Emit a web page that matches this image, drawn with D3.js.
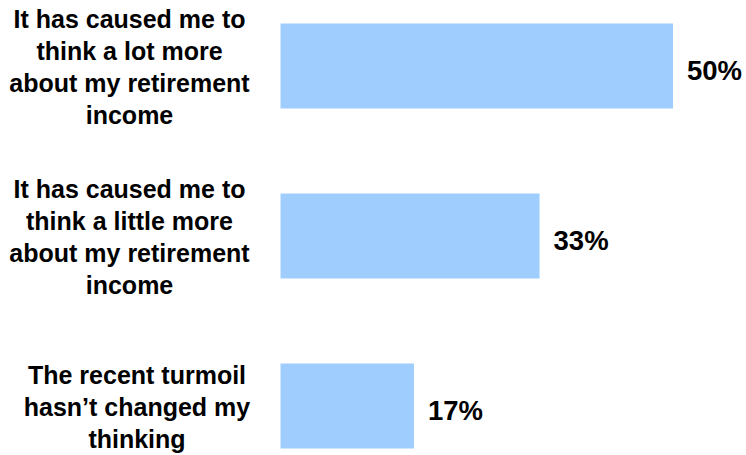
<!DOCTYPE html>
<html>
<head>
<meta charset="utf-8">
<script src="https://cdn.jsdelivr.net/npm/d3@7"></script>
<style>
  html, body { margin: 0; padding: 0; background: #ffffff; }
  svg { display: block; }
  text { font-family: "Liberation Sans", Arial, Helvetica, sans-serif; font-weight: bold; fill: #000000; }
</style>
</head>
<body>
<svg id="chart" width="746" height="455"></svg>
<script>
// Survey responses: effect of recent turmoil on thinking about retirement income
const categories = [
  "It has caused me to think a lot more about my retirement income",
  "It has caused me to think a little more about my retirement income",
  "The recent turmoil hasn\u2019t changed my thinking"
];
const categoryLines = [
  ["It has caused me to", "think a lot more", "about my retirement", "income"],
  ["It has caused me to", "think a little more", "about my retirement", "income"],
  ["The recent turmoil", "hasn\u2019t changed my", "thinking"]
];
const values = [50, 33, 17];
const valueLabels = ["50%", "33%", "17%"];

const svg = d3.select("#chart");
const barColor = "#9fcdfd";

const y = d3.scaleBand()
  .domain(categories)
  .range([-19, 491])
  .paddingInner(0.5)
  .paddingOuter(0.25);

const x = d3.scaleLinear()
  .domain([0, 50])
  .range([280.5, 673]);

const rows = categories.map((c, i) => ({
  cat: c, lines: categoryLines[i], value: values[i], label: valueLabels[i], i
}));

// Bars
svg.append("g")
  .selectAll("rect")
  .data(rows)
  .join("rect")
  .attr("x", x(0))
  .attr("y", d => y(d.cat))
  .attr("width", d => x(d.value) - x(0))
  .attr("height", y.bandwidth())
  .attr("fill", barColor);

// Value labels to the right of each bar
svg.append("g")
  .selectAll("text")
  .data(rows)
  .join("text")
  .attr("x", d => x(d.value) + 14)
  .attr("y", d => y(d.cat) + y.bandwidth() / 2 + 14)
  .attr("font-size", 27.5)
  .text(d => d.label);

// Category labels, centred multi-line blocks to the left of the bars
const lineGap = 31.7;
const labelCenters = [129.5, 129.5, 137];
const labels = svg.append("g")
  .selectAll("text")
  .data(rows)
  .join("text")
  .attr("text-anchor", "middle")
  .attr("font-size", 25);

labels.each(function(d) {
  const n = d.lines.length;
  const mid = y(d.cat) + y.bandwidth() / 2;
  const firstBaseline = mid - (n - 1) / 2 * lineGap + 10;
  d3.select(this).selectAll("tspan")
    .data(d.lines)
    .join("tspan")
    .attr("x", labelCenters[d.i])
    .attr("y", (l, k) => firstBaseline + k * lineGap)
    .text(l => l);
});
</script>
</body>
</html>
